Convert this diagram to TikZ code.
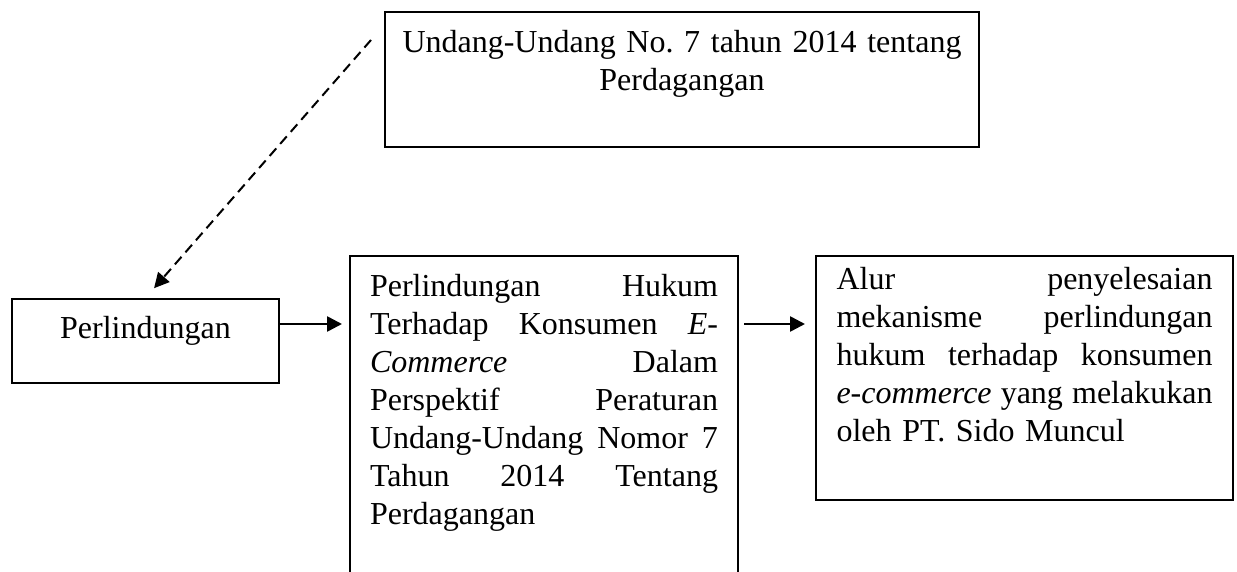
\documentclass[tikz,border=0pt]{standalone}
\usepackage{fontspec}
\setmainfont{Liberation Serif}
\usetikzlibrary{arrows.meta,positioning}
\frenchspacing

\begin{document}
\begin{tikzpicture}[x=0.5pt,y=-0.5pt,>={Triangle[length=7.5pt,width=7.5pt]},
    font=\fontsize{16}{19}\selectfont,
    box/.style={draw,line width=1pt,inner ysep=0pt,anchor=base west},
    link/.style={->,line width=1.3pt}]
  \useasboundingbox (0,0) rectangle (1237,572);
  \clip (0,0) rectangle (1237,572);
  \node[box,align=center,inner xsep=0pt,text width=297pt,text height=20.5pt,text depth=47pt] (uu) at (384,53) {Undang-Undang No. 7 tahun 2014 tentang\\Perdagangan};
  \node[box,align=center,inner xsep=0pt,text width=133.5pt,text height=19.5pt,text depth=22.5pt] (perl) at (11,338) {Perlindungan};
  \node[box,align=left,inner xsep=10pt,text width=174pt,text height=20.5pt,text depth=200pt] (ph) at (349,297) {Perlindungan\hfill Hukum\\Terhadap\hfill Konsumen\hfill \textit{E}-\\\textit{Commerce}\hfill Dalam\\Perspektif\hfill Peraturan\\Undang-Undang\hfill Nomor\hfill 7\\Tahun\hfill 2014\hfill Tentang\\Perdagangan};
  \node[box,align=left,inner xsep=10.25pt,text width=188pt,text height=17pt,text depth=105pt] (alur) at (815,290) {Alur\hfill penyelesaian\\mekanisme\hfill perlindungan\\hukum\hfill terhadap\hfill konsumen\\\mbox{\textit{e-commerce}}\hfill yang\hfill melakukan\\oleh PT. Sido Muncul};
  \coordinate (lvl) at (0,324);
  \coordinate (dtop) at (371,40);
  \draw[link,shorten >=3.5pt] (perl.east |- lvl) -- (ph.west |- lvl);
  \draw[link,shorten <=2.5pt,shorten >=5pt] (ph.east |- lvl) -- (alur.west |- lvl);
  \draw[link,line width=1pt,dash pattern=on 5pt off 3pt,shorten >=6.5pt] (dtop) -- (perl.north);
\end{tikzpicture}
\end{document}
